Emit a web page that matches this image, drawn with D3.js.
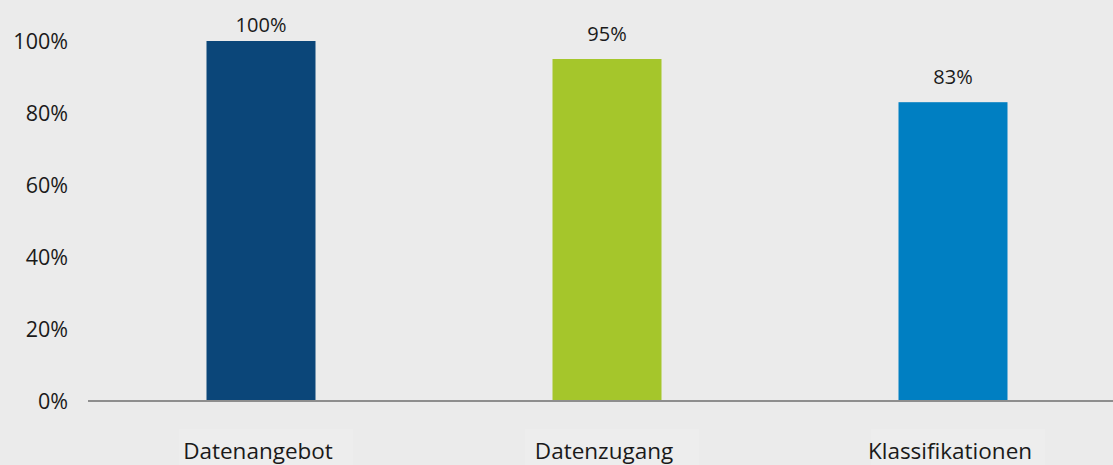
<!DOCTYPE html>
<html>
<head>
<meta charset="utf-8">
<script src="https://cdn.jsdelivr.net/npm/d3@7"></script>
<style>
html,body{margin:0;padding:0;background:#ebebeb;}
svg{display:block;}
text{font-family:"Open Sans","Noto Sans",sans-serif;fill:#1a1a1a;}
</style>
</head>
<body>
<svg id="chart" width="1113" height="465"></svg>
<script>
const categories = ["Datenangebot", "Datenzugang", "Klassifikationen"];
const values = [100, 95, 83];
const valueLabels = ["100%", "95%", "83%"];
const colors = ["#0b4679", "#a5c62b", "#007fc2"];
const yTicks = [0, 20, 40, 60, 80, 100];

const W = 1113, H = 465;
const svg = d3.select("#chart");
svg.append("rect").attr("width", W).attr("height", H).attr("fill", "#ebebeb");

const x = d3.scaleBand().domain(categories).range([88, 1126])
  .paddingInner(0.685).paddingOuter(0.3425);
const y = d3.scaleLinear().domain([0, 100]).range([401, 41]);

// faint label boxes
svg.append("g").selectAll("rect").data(categories).join("rect")
  .attr("x", d => x(d) + x.bandwidth() / 2 - 82)
  .attr("y", 429)
  .attr("width", 174)
  .attr("height", 40)
  .attr("fill", "#ededed");

// y axis labels
const yAxis = d3.axisLeft(y).tickValues(yTicks).tickSize(0).tickPadding(0)
  .tickFormat(d => d + "%");
const gy = svg.append("g").attr("transform", "translate(68,0)").call(yAxis);
gy.select(".domain").remove();
gy.selectAll("text").attr("font-size", 21.5).attr("font-family", null).attr("fill", "#1a1a1a")
  .attr("dy", "0.35em");

// bars
svg.append("g").selectAll("rect").data(values).join("rect")
  .attr("x", (d, i) => x(categories[i]))
  .attr("y", d => y(d))
  .attr("width", x.bandwidth())
  .attr("height", d => y(0) - y(d))
  .attr("fill", (d, i) => colors[i]);

// value labels
svg.append("g").selectAll("text").data(values).join("text")
  .attr("x", (d, i) => x(categories[i]) + x.bandwidth() / 2)
  .attr("y", d => Math.max(y(d) - 18, 32))
  .attr("text-anchor", "middle")
  .attr("font-size", 20)
  .text((d, i) => valueLabels[i]);

// x axis
const xAxis = d3.axisBottom(x).tickSize(0).tickPadding(0);
const gx = svg.append("g").attr("transform", "translate(0,401)").call(xAxis);
gx.select(".domain").remove();
gx.selectAll("text").attr("font-size", 22.5).attr("font-family", null).attr("fill", "#1a1a1a")
  .attr("dy", null).attr("y", 58).attr("dx", -3);
svg.append("line").attr("x1", 88).attr("x2", W).attr("y1", 401).attr("y2", 401)
  .attr("stroke", "#8e8e8e").attr("stroke-width", 2.2);
</script>
</body>
</html>
